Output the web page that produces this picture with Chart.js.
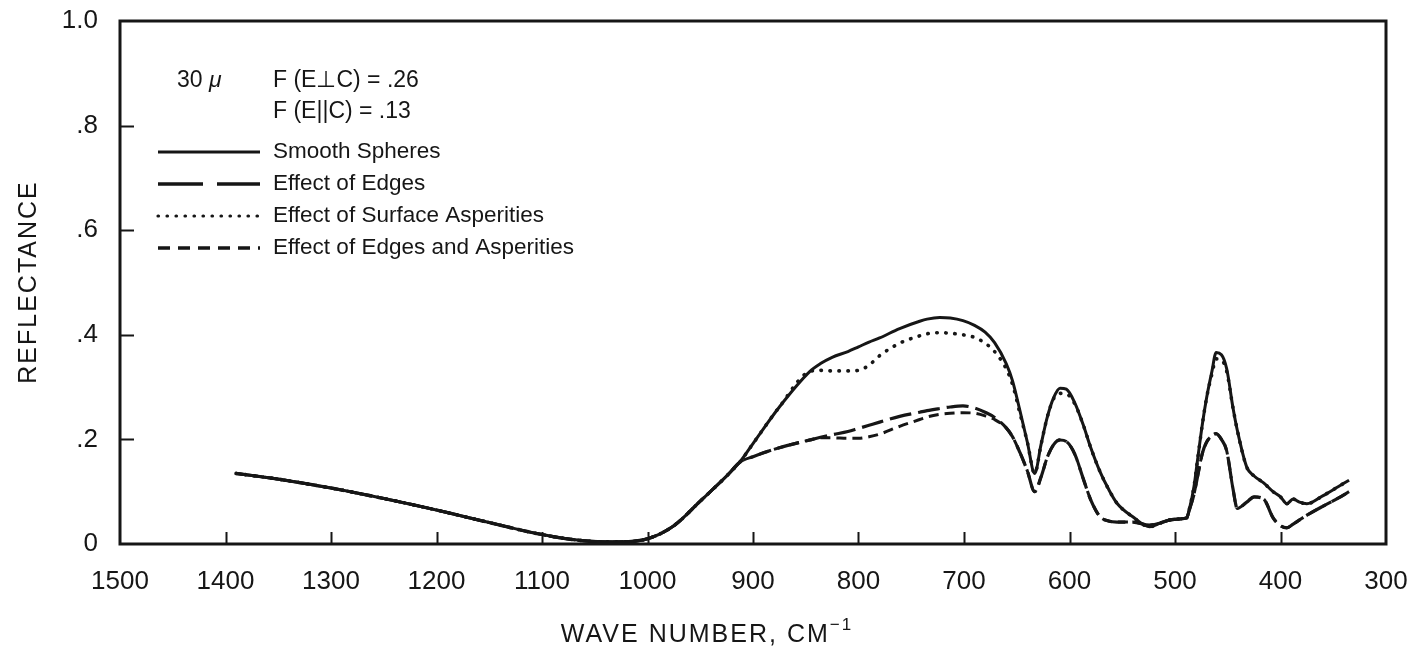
<!DOCTYPE html>
<html>
<head>
<meta charset="utf-8">
<script src="https://cdn.jsdelivr.net/npm/chart.js@4.4.0/dist/chart.umd.min.js"></script>
<style>
  html, body { margin: 0; padding: 0; background: #fff; }
  #wrap { width: 1410px; height: 656px; }
</style>
</head>
<body>
<div id="wrap"><canvas id="reflChart"></canvas></div>
<script>
// wave numbers (cm-1) shared by every curve
const waveNumbers = [1390, 1350, 1300, 1250, 1200, 1150, 1100, 1060, 1030, 1000,
  975, 950, 925, 912, 900, 875, 846, 836, 825, 810,
  800, 790, 780, 761, 742, 735, 723, 713, 701, 690,
  680, 671, 660, 654, 647, 640, 633, 627, 621, 615,
  609, 603, 595, 587, 580, 571, 563, 555, 540, 524,
  514, 505, 495, 489, 486, 482, 479, 474, 470, 465,
  461, 456, 451, 445, 441, 432, 425, 416, 407, 400,
  394, 388, 382, 375, 360, 345, 335];

const smoothSpheres = [.135, .124, .107, .087, .065, .041, .018, .006, .004, .010,
  .035, .082, .130, .158, .192, .262, .330, .345, .357, .368,
  .377, .386, .394, .412, .426, .430, .433, .432, .427, .418,
  .405, .385, .345, .312, .255, .195, .135, .190, .243, .280,
  .298, .296, .270, .228, .185, .138, .105, .078, .052, .033,
  .040, .046, .048, .050, .070, .110, .155, .230, .280, .330,
  .366, .362, .335, .260, .218, .147, .130, .117, .100, .090,
  .077, .086, .080, .077, .092, .110, .122];

const surfaceAsperities = [.135, .124, .107, .087, .065, .041, .018, .006, .004, .010,
  .035, .082, .130, .158, .192, .262, .330, .332, .331, .331,
  .332, .342, .360, .384, .398, .402, .404, .403, .400, .395,
  .384, .368, .335, .305, .250, .195, .135, .190, .243, .278,
  .288, .287, .268, .228, .185, .138, .105, .078, .052, .033,
  .040, .046, .048, .050, .070, .110, .155, .230, .280, .325,
  .354, .352, .330, .260, .218, .147, .130, .117, .100, .090,
  .077, .086, .080, .077, .092, .110, .122];

const edges = [.135, .124, .107, .087, .065, .041, .018, .006, .004, .010,
  .035, .082, .130, .157, .167, .184, .199, .204, .209, .215,
  .221, .227, .233, .244, .252, .255, .259, .262, .264, .260,
  .252, .242, .222, .205, .175, .140, .100, .128, .166, .190,
  .199, .196, .172, .125, .085, .052, .044, .042, .042, .036,
  .040, .046, .048, .050, .068, .095, .125, .174, .195, .207,
  .211, .200, .178, .105, .068, .080, .090, .086, .050, .035,
  .031, .038, .046, .055, .072, .088, .100];

const edgesAsperities = [.135, .124, .107, .087, .065, .041, .018, .006, .004, .010,
  .035, .082, .130, .157, .167, .184, .199, .203, .203, .202,
  .202, .205, .210, .225, .238, .243, .248, .250, .251, .250,
  .245, .238, .222, .205, .175, .140, .100, .128, .166, .190,
  .199, .196, .172, .125, .085, .052, .044, .042, .042, .036,
  .040, .046, .048, .050, .068, .095, .125, .174, .195, .207,
  .211, .200, .178, .105, .068, .080, .090, .086, .050, .035,
  .031, .038, .046, .055, .072, .088, .100];

const xTickValues = [1500, 1400, 1300, 1200, 1100, 1000, 900, 800, 700, 600, 500, 400, 300];
const yTickValues = [0, 0.2, 0.4, 0.6, 0.8, 1.0];
const yTickLabels = ['0', '.2', '.4', '.6', '.8', '1.0'];

const seriesNames = ['Smooth Spheres', 'Effect of Edges', 'Effect of Surface Asperities', 'Effect of Edges and Asperities'];

const ink = '#161616';
const FONT = '"Liberation Sans", Arial, Helvetica, sans-serif';

const dashes = {
  solid: [],
  long: [22, 7],
  dot: [0.5, 8.5],
  short: [10, 6]
};

function toPoints(arr) {
  return waveNumbers.map((w, i) => ({ x: w, y: arr[i] }));
}

function lineSet(label, arr, dash, width) {
  return {
    label: label,
    data: toPoints(arr),
    borderColor: ink,
    borderWidth: width,
    borderDash: dash,
    borderCapStyle: dash === dashes.dot ? 'round' : 'butt',
    pointRadius: 0,
    fill: false,
    cubicInterpolationMode: 'monotone'
  };
}

// drop the extra room chart.js keeps for edge labels
function noEdgePadding(s) {
  s.paddingTop = 0;
  s.paddingBottom = 0;
  s.paddingLeft = 0;
  s.paddingRight = 0;
}

// box, inward ticks, legend block and axis titles
const decorPlugin = {
  id: 'decor',
  afterDraw(chart) {
    const ctx = chart.ctx;
    const a = chart.chartArea;
    const xs = chart.scales.x, ys = chart.scales.y;
    ctx.save();
    ctx.strokeStyle = ink;
    ctx.fillStyle = ink;
    ctx.lineWidth = 3;
    ctx.setLineDash([]);
    ctx.strokeRect(a.left, a.top, a.right - a.left, a.bottom - a.top);

    ctx.lineWidth = 2;
    ctx.beginPath();
    xTickValues.forEach(v => {
      if (v === 1500 || v === 300) return;
      const px = Math.round(xs.getPixelForValue(v)) + 0.5;
      ctx.moveTo(px, a.bottom);
      ctx.lineTo(px, a.bottom - 12);
    });
    yTickValues.forEach(v => {
      if (v === 0 || v === 1) return;
      const py = Math.round(ys.getPixelForValue(v)) + 0.5;
      ctx.moveTo(a.left, py);
      ctx.lineTo(a.left + 14, py);
    });
    ctx.stroke();

    // header lines
    ctx.textAlign = 'left';
    ctx.textBaseline = 'alphabetic';
    ctx.font = '23px ' + FONT;
    ctx.fillText('30', 177, 87);
    ctx.font = 'italic 23px ' + FONT;
    ctx.fillText('\u03bc', 209, 87);
    ctx.font = '23px ' + FONT;
    ctx.fillText('F (E\u22a5C) = .26', 273, 87);
    ctx.fillText('F (E||C) = .13', 273, 118);

    // legend rows
    const rows = [
      { dash: dashes.solid, w: 3, cap: 'butt', base: 158 },
      { dash: [45, 14], w: 3.5, cap: 'butt', base: 190 },
      { dash: dashes.dot, w: 3.2, cap: 'round', base: 222 },
      { dash: [12, 8], w: 3.5, cap: 'butt', base: 254 }
    ];
    ctx.font = '22.5px ' + FONT;
    rows.forEach((r, i) => {
      ctx.setLineDash(r.dash);
      ctx.lineWidth = r.w;
      ctx.lineCap = r.cap;
      ctx.beginPath();
      ctx.moveTo(158, r.base - 6);
      ctx.lineTo(260, r.base - 6);
      ctx.stroke();
      ctx.setLineDash([]);
      ctx.fillText(seriesNames[i], 273, r.base);
    });
    ctx.lineCap = 'butt';

    // x title with superscript
    ctx.letterSpacing = '2px';
    ctx.font = '25px ' + FONT;
    const main = 'WAVE NUMBER, CM';
    const wMain = ctx.measureText(main).width;
    ctx.font = '17px ' + FONT;
    const wSup = ctx.measureText('\u22121').width;
    let x0 = 707 - (wMain + wSup) / 2;
    ctx.font = '25px ' + FONT;
    ctx.fillText(main, x0, 642);
    ctx.font = '17px ' + FONT;
    ctx.fillText('\u22121', x0 + wMain, 630);

    // y title
    ctx.translate(29, 282);
    ctx.rotate(-Math.PI / 2);
    ctx.textAlign = 'center';
    ctx.textBaseline = 'middle';
    ctx.font = '25px ' + FONT;
    ctx.fillText('REFLECTANCE', 0, 0);
    ctx.restore();
  }
};

document.addEventListener('DOMContentLoaded', function () {
  const ctx = document.getElementById('reflChart').getContext('2d');
  new Chart(ctx, {
    type: 'line',
    data: {
      datasets: [
        lineSet(seriesNames[0], smoothSpheres, dashes.solid, 3),
        lineSet(seriesNames[1], edges, dashes.long, 3.2),
        lineSet(seriesNames[2], surfaceAsperities, dashes.dot, 3.6),
        lineSet(seriesNames[3], edgesAsperities, dashes.short, 3)
      ]
    },
    options: {
      responsive: true,
      maintainAspectRatio: false,
      animation: false,
      layout: { padding: { top: 21, right: 24, left: 0, bottom: 0 } },
      plugins: {
        legend: { display: false },
        tooltip: { enabled: false }
      },
      scales: {
        x: {
          type: 'linear',
          reverse: true,
          min: 300,
          max: 1500,
          grid: { display: false, drawTicks: false },
          border: { display: false },
          afterBuildTicks: s => { s.ticks = xTickValues.map(v => ({ value: v })); },
          afterFit: s => { s.height = 112; noEdgePadding(s); },
          ticks: {
            autoSkip: false,
            maxRotation: 0,
            padding: 22,
            color: ink,
            font: { family: FONT, size: 26 },
            callback: v => String(v)
          }
        },
        y: {
          min: 0,
          max: 1,
          grid: { display: false, drawTicks: false },
          border: { display: false },
          afterBuildTicks: s => { s.ticks = yTickValues.map(v => ({ value: v })); },
          afterFit: s => { s.width = 120; noEdgePadding(s); },
          ticks: {
            padding: 22,
            color: ink,
            font: { family: FONT, size: 26 },
            callback: (v, i) => yTickLabels[i]
          }
        }
      }
    },
    plugins: [decorPlugin]
  });
});
</script>
</body>
</html>
